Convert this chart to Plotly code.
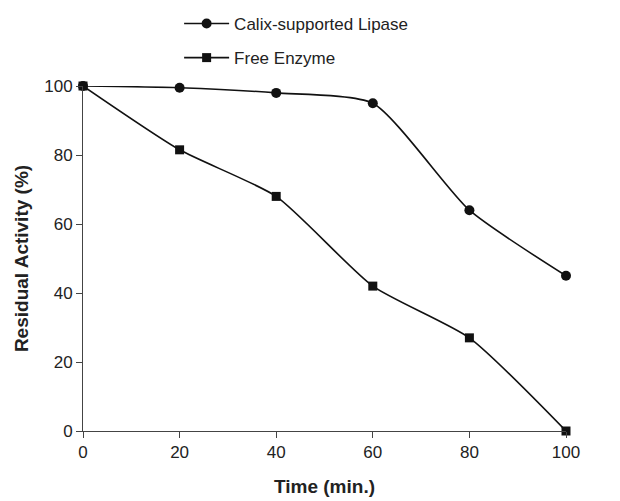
import plotly.graph_objects as go

time_min = [0, 20, 40, 60, 80, 100]
calix_supported = [100, 99.5, 98, 95, 64, 45]
free_enzyme = [100, 81.5, 68, 42, 27, 0]

x_ticks = [0, 20, 40, 60, 80, 100]
y_ticks = [0, 20, 40, 60, 80, 100]

fig = go.Figure()
fig.add_trace(go.Scatter(
    x=time_min, y=calix_supported, name="Calix-supported Lipase",
    mode="lines+markers", legendgroup="a",
    line=dict(color="#111111", width=1.6, shape="spline", smoothing=0.6),
    marker=dict(symbol="circle", size=10, color="#111111"),
    cliponaxis=False,
))
fig.add_trace(go.Scatter(
    x=time_min, y=free_enzyme, name="Free Enzyme",
    mode="lines+markers", legendgroup="b",
    line=dict(color="#111111", width=1.6, shape="spline", smoothing=0.6),
    marker=dict(symbol="square", size=9, color="#111111"),
    cliponaxis=False,
))

fig.update_layout(
    width=620, height=501,
    margin=dict(l=83, r=54, t=86, b=70, autoexpand=False),
    plot_bgcolor="white", paper_bgcolor="white",
    font=dict(family="Liberation Sans, Arial, sans-serif", size=17, color="#222222"),
    showlegend=True,
    legend=dict(
        x=0.199, y=1.232, xanchor="left", yanchor="top",
        traceorder="grouped", tracegroupgap=9, itemwidth=45,
        font=dict(size=17, color="#222222"),
        bgcolor="rgba(0,0,0,0)",
    ),
    xaxis=dict(
        range=[0, 100], tickvals=x_ticks, ticks="outside", ticklen=6,
        tickcolor="#444444", showline=True, linecolor="#444444", linewidth=1,
        showgrid=False, zeroline=False, automargin=False,
        title=dict(text="<b>Time (min.)</b>", font=dict(size=19), standoff=18),
    ),
    yaxis=dict(
        range=[0, 100], tickvals=y_ticks, ticks="outside", ticklen=6,
        tickcolor="#444444", showline=True, linecolor="#444444", linewidth=1,
        showgrid=False, zeroline=False, automargin=False,
        title=dict(text="<b>Residual Activity (%)</b>", font=dict(size=19), standoff=10),
    ),
)

fig.write_html("out.html", post_script="document.body.style.margin='0';",
               config={"displayModeBar": False})
